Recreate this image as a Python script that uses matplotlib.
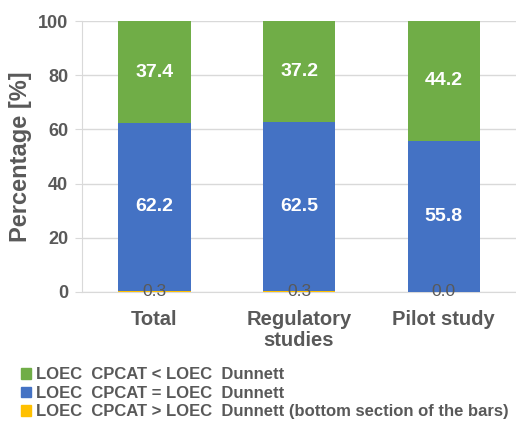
import numpy as np
import matplotlib.pyplot as plt
from matplotlib.patches import Patch

plt.rcParams['font.family'] = ['Liberation Sans', 'DejaVu Sans']

# study groups and share of each LOEC comparison outcome (%)
categories = ['Total', 'Regulatory\nstudies', 'Pilot study']
cpcat_greater = [0.3, 0.3, 0.0]
cpcat_equal = [62.2, 62.5, 55.8]
cpcat_less = [37.4, 37.2, 44.2]
legend_labels = ['LOEC  CPCAT < LOEC  Dunnett',
                 'LOEC  CPCAT = LOEC  Dunnett',
                 'LOEC  CPCAT > LOEC  Dunnett (bottom section of the bars)']

c_yellow = '#FFC000'
c_blue = '#4472C4'
c_green = '#70AD47'
grey = '#595959'

fig = plt.figure(figsize=(5.16, 4.23), dpi=100)
ax = fig.add_axes([0.159, 0.310, 0.841, 0.640])

x = np.arange(len(categories))
w = 0.5
bottom2 = np.array(cpcat_greater)
bottom3 = bottom2 + np.array(cpcat_equal)
ax.bar(x, cpcat_greater, w, color=c_yellow, zorder=3)
ax.bar(x, cpcat_equal, w, bottom=bottom2, color=c_blue, zorder=3)
ax.bar(x, cpcat_less, w, bottom=bottom3, color=c_green, zorder=3)

# value labels
for i in range(len(categories)):
    ax.text(x[i], bottom2[i] + cpcat_equal[i] / 2, f'{cpcat_equal[i]:.1f}',
            ha='center', va='center', color='white', fontsize=14,
            fontweight='bold', zorder=4)
    ax.text(x[i], bottom3[i] + cpcat_less[i] / 2, f'{cpcat_less[i]:.1f}',
            ha='center', va='center', color='white', fontsize=14,
            fontweight='bold', zorder=4)
    ax.text(x[i], 0, f'{cpcat_greater[i]:.1f}', ha='center', va='center',
            color=grey, fontsize=12.5, zorder=4)

ax.set_xlim(-0.5, 2.5)
ax.set_ylim(0, 100)
ax.set_yticks(range(0, 101, 20))
ax.yaxis.grid(True, color='#D9D9D9', linewidth=1, zorder=0)
ax.set_axisbelow(True)
for s in ['top', 'right']:
    ax.spines[s].set_visible(False)
ax.spines['left'].set_color('#D9D9D9')
ax.spines['bottom'].set_color('#D9D9D9')
ax.tick_params(axis='y', colors='#D9D9D9', length=5, labelcolor=grey,
               labelsize=13, pad=5)
ax.tick_params(axis='x', length=0, labelcolor=grey, labelsize=14.5, pad=13)
ax.set_xticks(x)
ax.set_xticklabels(categories, fontweight='bold', linespacing=1.15, va='top')
for lbl in ax.get_yticklabels():
    lbl.set_fontweight('bold')
ax.set_ylabel('Percentage [%]', fontsize=17, fontweight='bold', color=grey,
              labelpad=4)

handles = [Patch(color=c_green), Patch(color=c_blue), Patch(color=c_yellow)]
leg = fig.legend(handles, legend_labels, loc='upper left',
                 bbox_to_anchor=(0.04, 0.132), frameon=False,
                 handlelength=0.6, handleheight=0.6, handletextpad=0.3,
                 labelspacing=0.22, borderaxespad=0, borderpad=0,
                 prop={'size': 12, 'weight': 'bold'})
for t in leg.get_texts():
    t.set_color(grey)

fig.savefig('out.png', dpi=100)
